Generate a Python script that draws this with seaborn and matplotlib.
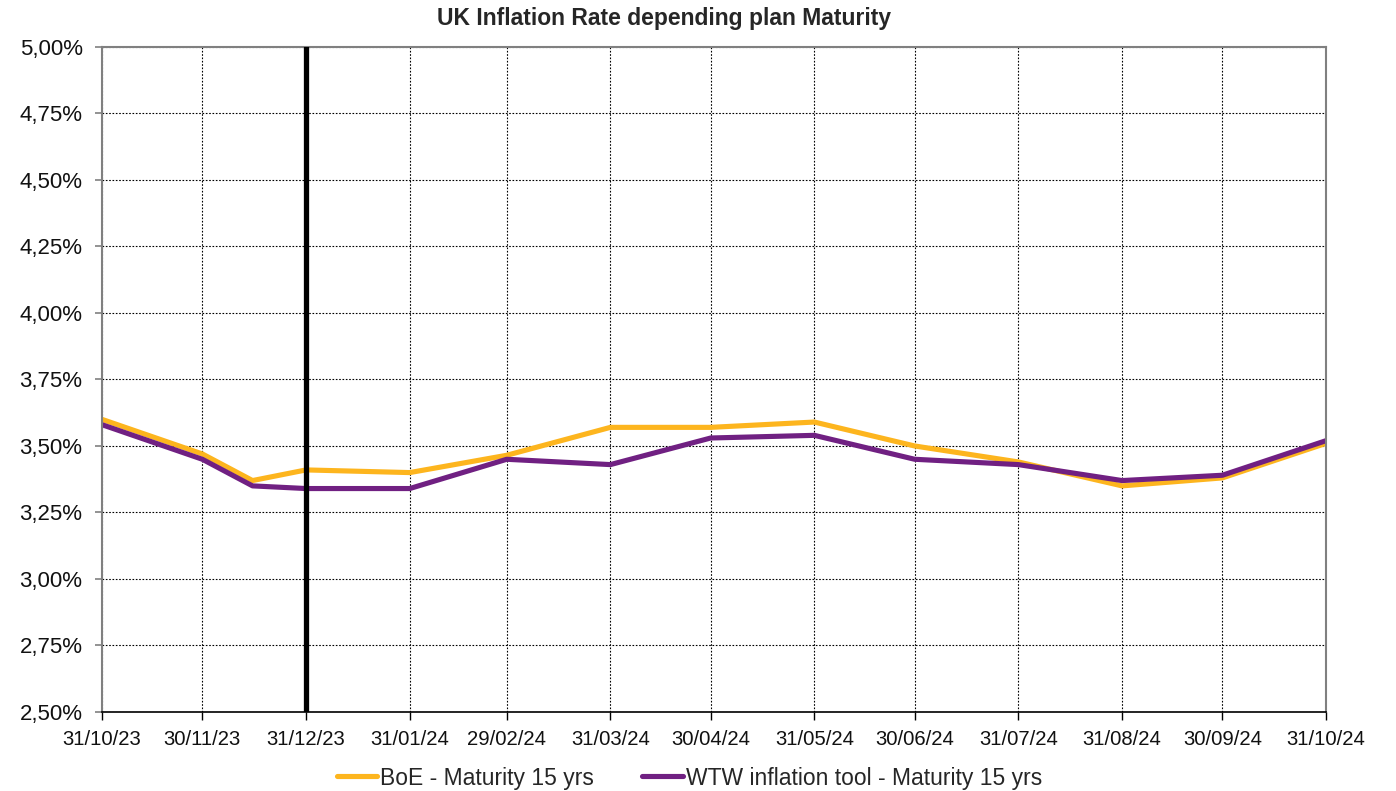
import matplotlib
matplotlib.use("Agg")
from matplotlib import pyplot as plt
import matplotlib.dates as mdates
from matplotlib.ticker import FuncFormatter, MultipleLocator
import seaborn as sns
import pandas as pd

sns.set_style("white")
plt.rcParams["font.family"] = ["Liberation Sans", "DejaVu Sans"]

dates = ["2023-10-31", "2023-11-30", "2023-12-15", "2023-12-31", "2024-01-31",
         "2024-02-29", "2024-03-31", "2024-04-30", "2024-05-31", "2024-06-30",
         "2024-07-31", "2024-08-31", "2024-09-30", "2024-10-31"]
boe = [3.60, 3.47, 3.37, 3.41, 3.40, 3.465, 3.57, 3.57, 3.59, 3.50, 3.44, 3.35, 3.38, 3.51]
wtw = [3.58, 3.45, 3.35, 3.34, 3.34, 3.45, 3.43, 3.53, 3.54, 3.45, 3.43, 3.37, 3.39, 3.52]
tick_dates = ["2023-10-31", "2023-11-30", "2023-12-31", "2024-01-31", "2024-02-29",
              "2024-03-31", "2024-04-30", "2024-05-31", "2024-06-30", "2024-07-31",
              "2024-08-31", "2024-09-30", "2024-10-31"]
marker_date = "2023-12-31"
boe_name = "BoE - Maturity 15 yrs"
wtw_name = "WTW inflation tool - Maturity 15 yrs"

df = pd.DataFrame({"date": pd.to_datetime(dates), boe_name: boe, wtw_name: wtw})

fig = plt.figure(figsize=(13.96, 7.91), dpi=100)
ax = fig.add_axes([0.0731, 0.0999, 0.8768, 0.8407])

sns.lineplot(data=df, x="date", y=boe_name, color="#FDB51E", linewidth=3.7, ax=ax, label=boe_name)
sns.lineplot(data=df, x="date", y=wtw_name, color="#702082", linewidth=3.7, ax=ax, label=wtw_name)
ax.axvline(pd.Timestamp(marker_date), color="black", linewidth=3.8, zorder=5)

ticks = pd.to_datetime(tick_dates)
ax.set_xlim(ticks[0], ticks[-1])
ax.set_xticks(ticks)
ax.xaxis.set_major_formatter(mdates.DateFormatter("%d/%m/%y"))
ax.set_ylim(2.5, 5.0)
ax.yaxis.set_major_locator(MultipleLocator(0.25))
ax.yaxis.set_major_formatter(FuncFormatter(lambda v, p: "{:.2f}%".format(v).replace(".", ",")))

ax.grid(True, color="black", linestyle=(0, (1.5, 1.5)), linewidth=0.8)
ax.set_axisbelow(True)
ax.set_xlabel("")
ax.set_ylabel("")
for s in ["left", "top", "right"]:
    ax.spines[s].set_color("#808080")
    ax.spines[s].set_linewidth(1.5)
ax.spines["bottom"].set_color("black")
ax.spines["bottom"].set_linewidth(1.2)
ax.tick_params(axis="y", labelsize=16, length=5, color="#808080", width=1.2, left=True, pad=9,
               labelcolor="#111111")
ax.tick_params(axis="x", labelsize=14.6, length=6, color="black", width=1, bottom=True, pad=7,
               labelcolor="#111111")

fig.text(664 / 1396, 1 - 18 / 791, "UK Inflation Rate depending plan Maturity",
         fontsize=16.5, fontweight="bold", ha="center", va="center")
ax.legend(loc="center", bbox_to_anchor=(0.494, 1 - 778 / 791), bbox_transform=fig.transFigure,
          ncol=2, frameon=False, fontsize=16.5, handlelength=1.75, handletextpad=0.15,
          columnspacing=2.1, borderpad=0)

fig.savefig("out.png", dpi=100)
